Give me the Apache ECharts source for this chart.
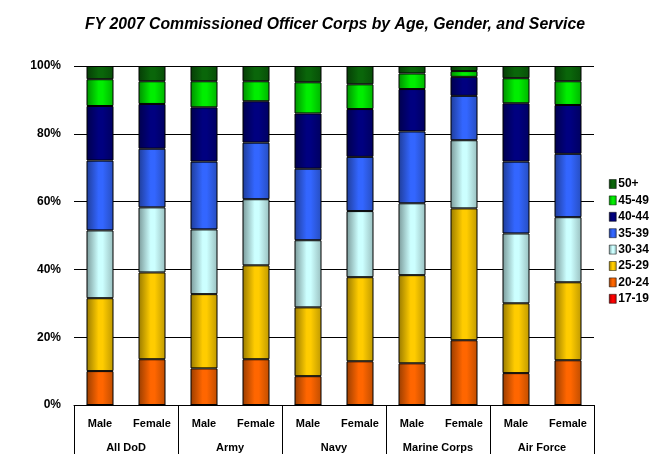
<!DOCTYPE html>
<html>
<head>
<meta charset="utf-8">
<script src="https://cdn.jsdelivr.net/npm/echarts@6/dist/echarts.min.js"></script>
<style>html,body{margin:0;padding:0;background:#fff}#c{width:657px;height:469px}</style>
</head>
<body>
<div id="c"></div>
<script>
const categories = ['Male','Female','Male','Female','Male','Female','Male','Female','Male','Female'];
const groups = ['All DoD','Army','Navy','Marine Corps','Air Force'];
const yTicks = [0,20,40,60,80,100];
const seriesNames = ['17-19','20-24','25-29','30-34','35-39','40-44','45-49','50+'];
const s1719 = [0,0,0,0,0,0,0,0,0,0];
const s2024 = [10.0,13.5,10.8,13.5,8.5,12.9,12.3,19.1,9.4,13.2];
const s2529 = [21.5,25.6,21.9,27.7,20.3,24.8,26.0,38.9,20.6,23.0];
const s3034 = [20.0,19.2,19.1,19.5,19.8,19.5,21.2,20.1,20.6,19.2];
const s3539 = [20.6,17.3,20.0,16.7,21.1,16.0,21.2,13.1,21.2,18.7];
const s4044 = [16.1,13.2,16.0,12.2,16.3,14.1,12.5,5.6,17.2,14.4];
const s4549 = [7.9,6.7,7.7,5.9,9.2,7.3,4.6,1.7,7.4,7.0];
const s50 = [3.9,4.5,4.5,4.5,4.8,5.4,2.2,1.5,3.6,4.5];
const seriesData = [s1719,s2024,s2529,s3034,s3539,s4044,s4549,s50];
const colors = ['#ff0000','#ff6600','#ffcc00','#ccffff','#3366ff','#000080','#00ee00','#0a660a'];

function shade(hex, f){
  const n=parseInt(hex.slice(1),16);
  const r=Math.round(((n>>16)&255)*f), g=Math.round(((n>>8)&255)*f), b=Math.round((n&255)*f);
  return 'rgb('+r+','+g+','+b+')';
}
function grad(hex){
  return {type:'linear',x:0,y:0,x2:1,y2:0,colorStops:[
    {offset:0,color:shade(hex,0.6)},{offset:0.45,color:hex},{offset:0.6,color:hex},{offset:1,color:shade(hex,0.75)}]};
}
const FONT = '"Liberation Sans", Arial, sans-serif';
const chart = echarts.init(document.getElementById('c'), null, {renderer:'canvas'});
chart.setOption({
  animation:false,
  backgroundColor:'#fff',
  title:{text:'FY 2007 Commissioned Officer Corps by Age, Gender, and Service',left:330,textAlign:'center',top:12,
    textStyle:{fontFamily:FONT,fontSize:15.8,fontWeight:'bold',fontStyle:'italic',color:'#000'}},
  legend:{
    orient:'vertical',left:604,top:172,itemWidth:7,itemHeight:9,itemGap:2.4,icon:'rect',
    data:seriesNames.slice().reverse(),
    textStyle:{fontFamily:FONT,fontSize:12,fontWeight:'bold',color:'#000',lineHeight:14,padding:[0,0,0,-3]},
    itemStyle:{borderColor:'#000',borderWidth:0.5}
  },
  grid:{left:74,right:63,top:66,bottom:64},
  xAxis:[
    {type:'category',data:categories,position:'bottom',
     axisLine:{lineStyle:{color:'#000',width:1}},axisTick:{show:false},
     axisLabel:{interval:0,margin:13,fontFamily:FONT,fontSize:11,fontWeight:'bold',color:'#000'}},
    {type:'category',data:groups,position:'bottom',
     axisLine:{show:false},axisTick:{show:true,length:49,lineStyle:{color:'#000',width:1}},
     axisLabel:{interval:0,margin:37,fontFamily:FONT,fontSize:11,fontWeight:'bold',color:'#000'}}
  ],
  yAxis:{type:'value',min:yTicks[0],max:yTicks[yTicks.length-1],interval:20,
    axisLine:{show:false},axisTick:{show:false},
    splitLine:{lineStyle:{color:'#000',width:1}},
    axisLabel:{formatter:'{value}%',margin:13,fontFamily:FONT,fontSize:12,fontWeight:'bold',color:'#000'}},
  series:seriesData.map((d,i)=>({
    name:seriesNames[i],type:'bar',stack:'a',xAxisIndex:0,barWidth:27,data:d,
    itemStyle:{color:grad(colors[i]),borderColor:'#000',borderWidth:1}
  }))
});
</script>
</body>
</html>
